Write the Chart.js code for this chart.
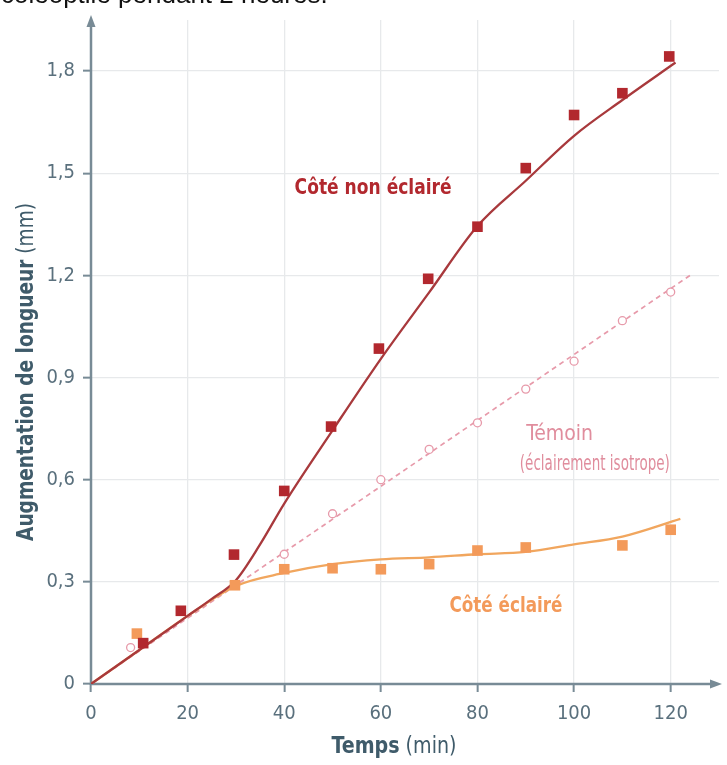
<!DOCTYPE html>
<html><head><meta charset="utf-8">
<script src="https://cdn.jsdelivr.net/npm/chart.js@4/dist/chart.umd.min.js"></script>
<style>
html,body{margin:0;padding:0;background:#fff;overflow:hidden;}
#wrap{position:relative;width:727px;height:765px;overflow:hidden;}
#cap{position:absolute;left:1px;top:-19px;font:26px 'Liberation Sans',Arial,sans-serif;color:#111;white-space:nowrap;line-height:26px;}
canvas{position:absolute;left:0;top:0;}
</style></head><body>
<div id="wrap"><canvas id="c" width="727" height="765"></canvas><div id="cap">coléoptile pendant 2 heures.</div></div>
<script>
// ---- data ----
const timeTicks = [0, 20, 40, 60, 80, 100, 120];
const lengthTicks = [0, 0.3, 0.6, 0.9, 1.2, 1.5, 1.8];

// Côté non éclairé (measured points)
const darkX = [10.8, 18.6, 29.6, 40, 49.7, 59.6, 69.8, 80, 90, 100, 110, 119.7];
const darkY = [0.12, 0.215, 0.38, 0.567, 0.756, 0.985, 1.19, 1.343, 1.515, 1.671, 1.735, 1.843];
// Côté non éclairé (fitted curve)
const darkCurveX = [0, 10, 20, 25, 30, 35, 40, 50, 60, 70, 80, 90, 100, 110, 121];
const darkCurveY = [0, 0.1, 0.2, 0.25, 0.305, 0.41, 0.53, 0.745, 0.955, 1.15, 1.345, 1.478, 1.61, 1.715, 1.825];

// Côté éclairé (measured points)
const litX = [9.5, 29.8, 40, 50, 60, 70, 80, 90, 110, 120];
const litY = [0.148, 0.29, 0.337, 0.34, 0.337, 0.352, 0.392, 0.401, 0.407, 0.453];
// Côté éclairé (fitted curve)
const litCurveX = [0, 10, 20, 30, 40, 50, 60, 70, 80, 90, 100, 110, 122];
const litCurveY = [0, 0.1, 0.2, 0.288, 0.326, 0.352, 0.366, 0.372, 0.381, 0.388, 0.41, 0.433, 0.485];

// Témoin (éclairement isotrope)
const ctrlX = [8.2, 40, 50, 60, 70, 80, 90, 100, 110, 120];
const ctrlY = [0.107, 0.381, 0.5, 0.6, 0.689, 0.767, 0.866, 0.948, 1.067, 1.151];
const ctrlLineX = [0, 124];
const ctrlLineY = [0, 1.2];

const labelTexts = ['Côté non éclairé', 'Témoin', '(éclairement isotrope)', 'Côté éclairé'];

// ---- styles ----
const FONT = "'DejaVu Sans Condensed','DejaVu Sans',sans-serif";
const RED = '#b2282e', RED_LINE = '#a8393c';
const ORANGE = '#f39a5a', ORANGE_LINE = '#f1a65e';
const PINK = '#e79aaa', PINK_TEXT = '#e08d9d';
const AXIS = '#788b96', TICKTXT = '#5a707d', TITLE = '#3f5b6a', GRID = '#e7e9eb';

const pts = (xs, ys) => xs.map((x, i) => ({x: x, y: ys[i]}));

// draw text (possibly mixed weight parts) centred at px, squeezed horizontally to a target width
function drawFit(ctx, parts, cx, cy, targetW, rot) {
  let total = 0;
  const ws = parts.map(p => { ctx.font = p.font; const w = ctx.measureText(p.text).width; total += w; return w; });
  const k = targetW ? Math.min(1, targetW / total) : 1;
  ctx.save();
  ctx.translate(cx, cy);
  if (rot) ctx.rotate(rot);
  ctx.scale(k, 1);
  ctx.textAlign = 'left'; ctx.textBaseline = 'middle';
  let x = -total / 2;
  parts.forEach((p, i) => { ctx.font = p.font; ctx.fillStyle = p.color; ctx.fillText(p.text, x, 0); x += ws[i]; });
  ctx.restore();
}

const overlay = {
  id: 'overlay',
  beforeDatasetsDraw(chart) {
    const ctx = chart.ctx, a = chart.chartArea;
    ctx.save();
    ctx.strokeStyle = AXIS; ctx.fillStyle = AXIS; ctx.lineWidth = 2.5;
    ctx.beginPath(); ctx.moveTo(a.left - 1, a.bottom); ctx.lineTo(a.right - 6, a.bottom); ctx.stroke();
    ctx.beginPath(); ctx.moveTo(a.right + 3, a.bottom); ctx.lineTo(a.right - 9, a.bottom - 4.5); ctx.lineTo(a.right - 9, a.bottom + 4.5); ctx.closePath(); ctx.fill();
    ctx.beginPath(); ctx.moveTo(a.left, a.bottom + 1); ctx.lineTo(a.left, a.top + 4); ctx.stroke();
    ctx.beginPath(); ctx.moveTo(a.left, a.top - 5); ctx.lineTo(a.left - 4.5, a.top + 7); ctx.lineTo(a.left + 4.5, a.top + 7); ctx.closePath(); ctx.fill();
    ctx.restore();
  },
  afterDatasetsDraw(chart) {
    const ctx = chart.ctx, xs = chart.scales.x, ys = chart.scales.y;
    const px = v => xs.getPixelForValue(v), py = v => ys.getPixelForValue(v);
    drawFit(ctx, [{text: labelTexts[0], font: 'bold 21px ' + FONT, color: RED}], px(58.4), py(1.456), 157);
    drawFit(ctx, [{text: labelTexts[1], font: '21px ' + FONT, color: PINK_TEXT}], px(97), py(0.732), 70);
    drawFit(ctx, [{text: labelTexts[2], font: '21px ' + FONT, color: PINK_TEXT}], px(104.3), py(0.645), 150);
    drawFit(ctx, [{text: labelTexts[3], font: 'bold 21px ' + FONT, color: ORANGE}], px(85.9), py(0.227), 113);
    const b = 'bold 23px ' + FONT, n = '23px ' + FONT;
    drawFit(ctx, [{text: 'Temps', font: b, color: TITLE}, {text: ' (min)', font: n, color: TITLE}], 394, 747, 125);
    drawFit(ctx, [{text: 'Augmentation de longueur', font: b, color: TITLE}, {text: ' (mm)', font: n, color: TITLE}], 27, 372, 338, -Math.PI / 2);
  }
};

Chart.defaults.font.family = FONT;
new Chart(document.getElementById('c'), {
  type: 'scatter',
  data: {
    datasets: [
      {label: 'Côté non éclairé', data: pts(darkX, darkY), pointStyle: 'rect', pointRadius: 7.5, backgroundColor: RED, borderColor: RED, borderWidth: 0, showLine: false},
      {label: 'Côté éclairé', data: pts(litX, litY), pointStyle: 'rect', pointRadius: 7.5, backgroundColor: ORANGE, borderColor: ORANGE, borderWidth: 0, showLine: false},
      {label: 'Témoin', data: pts(ctrlX, ctrlY), pointStyle: 'circle', pointRadius: 4, backgroundColor: '#fff', borderColor: PINK, pointBorderWidth: 1.3, showLine: false},
      {label: 'Courbe non éclairé', data: pts(darkCurveX, darkCurveY), showLine: true, pointRadius: 0, borderColor: RED_LINE, borderWidth: 2.3, cubicInterpolationMode: 'monotone', fill: false},
      {label: 'Courbe éclairé', data: pts(litCurveX, litCurveY), showLine: true, pointRadius: 0, borderColor: ORANGE_LINE, borderWidth: 2.3, cubicInterpolationMode: 'monotone', fill: false},
      {label: 'Courbe témoin', data: pts(ctrlLineX, ctrlLineY), showLine: true, pointRadius: 0, borderColor: PINK, borderWidth: 1.7, borderDash: [5, 4], fill: false}
    ]
  },
  options: {
    responsive: false, animation: false, devicePixelRatio: 1,
    layout: {padding: {left: 0, right: 8, top: 13, bottom: 0}},
    plugins: {legend: {display: false}, tooltip: {enabled: false}},
    scales: {
      x: {
        type: 'linear', min: 0, max: 130,
        afterBuildTicks: s => { s.ticks = timeTicks.map(v => ({value: v})); },
        afterFit: s => { s.height = 81; },
        border: {display: false},
        grid: {color: GRID, lineWidth: 1.3, tickColor: AXIS, tickLength: 8, tickWidth: 2},
        ticks: {color: TICKTXT, font: {size: 20}, padding: 10, callback: v => String(v)}
      },
      y: {
        type: 'linear', min: 0, max: 1.95,
        afterBuildTicks: s => { s.ticks = lengthTicks.map(v => ({value: v})); },
        afterFit: s => { s.width = 91; },
        border: {display: false},
        grid: {color: GRID, lineWidth: 1.3, tickColor: AXIS, tickLength: 8, tickWidth: 2},
        ticks: {color: TICKTXT, font: {size: 20}, padding: 8, callback: v => v === 0 ? '0' : Number(v).toFixed(1).replace('.', ',')}
      }
    }
  },
  plugins: [overlay]
});
</script>
</body></html>
